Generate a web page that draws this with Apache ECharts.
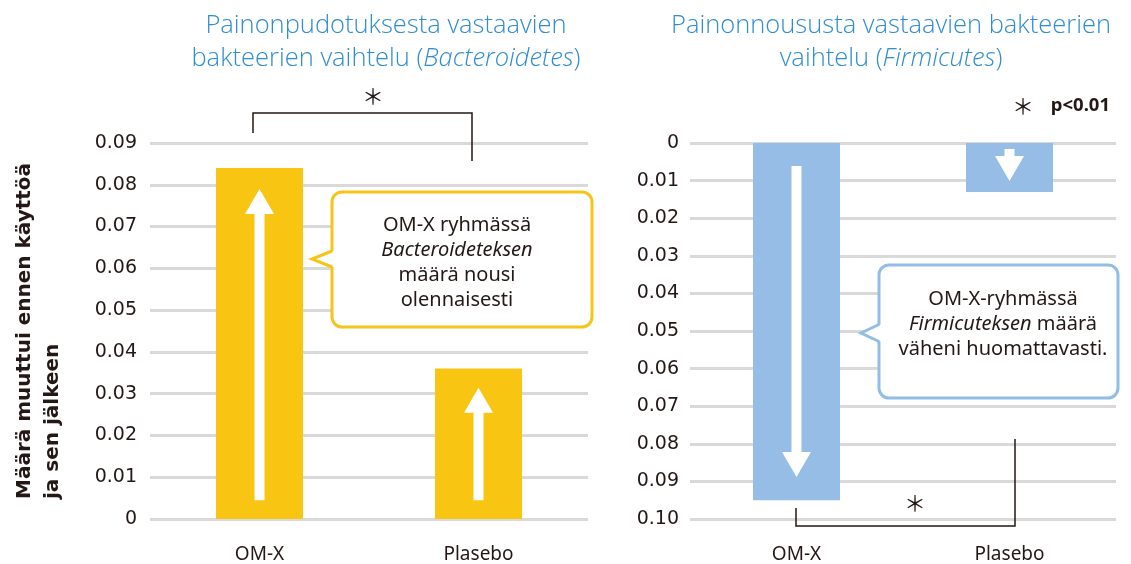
<!DOCTYPE html>
<html>
<head>
<meta charset="utf-8">
<script src="https://cdn.jsdelivr.net/npm/echarts@6/dist/echarts.min.js"></script>
<style>
  html, body { margin: 0; padding: 0; background: #fff; }
  #chart { width: 1131px; height: 564px; }
</style>
</head>
<body>
<div id="chart"></div>
<script>
const categories = ['OM-X', 'Plasebo'];
const bacteroidetes = [0.084, 0.036];
const firmicutes = [0.095, 0.013];
// arrow start / tip values drawn inside the bars
const bacteroidetesArrows = [[0.0045, 0.079], [0.0045, 0.0314]];
const firmicutesArrows = [[0.0061, 0.0888], [0.0016, 0.0101]];

const ink = '#231815';
const titleBlue = '#2f8dd3';
const yellow = '#f8c612';
const blue = '#95bde5';
const gridGray = '#d9d9d9';
const font = '"Noto Sans", sans-serif';
const axisFont = '"DejaVu Sans", sans-serif';
const titleFont = '"Open Sans", sans-serif';

const tickFormatter = v => (v === 0 ? '0' : v.toFixed(2));

function arrowRenderer(params, api) {
  const x = api.coord([api.value(0), api.value(1)])[0];
  const y0 = api.coord([api.value(0), api.value(1)])[1];
  const y1 = api.coord([api.value(0), api.value(2)])[1];
  const dir = Math.sign(y1 - y0);
  const baseY = y1 - 25 * dir;
  const sw = 5, hw = 14.5;
  return {
    type: 'polygon',
    shape: {
      points: [[x - sw, y0], [x + sw, y0], [x + sw, baseY], [x + hw, baseY], [x, y1], [x - hw, baseY], [x - sw, baseY]]
    },
    style: { fill: '#fff' }
  };
}

// speech bubble: rounded box + pointer on the left edge
function bubble(x, y, w, h, tipX, tipY, half, color) {
  return [
    { type: 'rect', z: 100, shape: { x, y, width: w, height: h, r: 10 }, style: { fill: '#fff', stroke: color, lineWidth: 3 } },
    { type: 'polygon', z: 101, shape: { points: [[x + 2, tipY - half], [tipX, tipY], [x + 2, tipY + half]] }, style: { fill: '#fff' } },
    { type: 'polyline', z: 102, shape: { points: [[x, tipY - half], [tipX, tipY], [x, tipY + half]] }, style: { stroke: color, lineWidth: 3, fill: null } }
  ];
}

const yAxisBase = {
  type: 'value',
  min: 0,
  interval: 0.01,
  axisLine: { show: false },
  axisTick: { show: false },
  axisLabel: { color: ink, fontSize: 19, fontFamily: axisFont, formatter: tickFormatter },
  splitLine: { lineStyle: { color: gridGray, width: 3 } }
};

const xAxisBase = {
  type: 'category',
  data: categories,
  axisLine: { show: false },
  axisTick: { show: false },
  axisLabel: { color: ink, fontSize: 19, fontFamily: font, margin: 26 }
};

const titleStyle = {
  align: 'center', verticalAlign: 'middle', lineHeight: 33,
  fill: titleBlue, fontSize: 25.5, fontFamily: titleFont, fontWeight: 300,
  rich: { i: { fontStyle: 'italic', fill: titleBlue, fontSize: 25.5, fontFamily: titleFont, fontWeight: 300, lineHeight: 33 } }
};

const calloutStyle = {
  align: 'center', verticalAlign: 'middle', lineHeight: 25,
  fill: ink, fontSize: 20, fontFamily: font,
  rich: { i: { fontStyle: 'italic', fill: ink, fontSize: 20, fontFamily: font, lineHeight: 25 } }
};

const star = (x, y) => ({
  type: 'text', x, y, z: 100,
  style: { text: '＊', align: 'center', verticalAlign: 'middle', fill: ink, fontSize: 22, fontFamily: '"Noto Sans CJK JP", sans-serif' }
});

const chart = echarts.init(document.getElementById('chart'), null, { renderer: 'canvas' });

chart.setOption({
  animation: false,
  backgroundColor: '#fff',
  grid: [
    { left: 150, right: 543, top: 143, bottom: 45 },
    { left: 690, right: 15, top: 143, bottom: 45 }
  ],
  xAxis: [
    Object.assign({ gridIndex: 0 }, xAxisBase),
    Object.assign({ gridIndex: 1 }, xAxisBase)
  ],
  yAxis: [
    Object.assign({}, yAxisBase, { gridIndex: 0, max: 0.09, axisLabel: Object.assign({}, yAxisBase.axisLabel, { margin: 13 }) }),
    Object.assign({}, yAxisBase, { gridIndex: 1, max: 0.1, inverse: true, axisLabel: Object.assign({}, yAxisBase.axisLabel, { margin: 11 }) })
  ],
  series: [
    {
      type: 'bar', xAxisIndex: 0, yAxisIndex: 0, barWidth: 87,
      itemStyle: { color: yellow }, data: bacteroidetes
    },
    {
      type: 'bar', xAxisIndex: 1, yAxisIndex: 1, barWidth: 87,
      itemStyle: { color: blue }, data: firmicutes
    },
    {
      type: 'custom', xAxisIndex: 0, yAxisIndex: 0, z: 5,
      renderItem: arrowRenderer, encode: { x: 0, y: [1, 2] },
      data: bacteroidetesArrows.map((a, i) => [i, a[0], a[1]])
    },
    {
      type: 'custom', xAxisIndex: 1, yAxisIndex: 1, z: 5,
      renderItem: arrowRenderer, encode: { x: 0, y: [1, 2] },
      data: firmicutesArrows.map((a, i) => [i, a[0], a[1]])
    }
  ],
  graphic: [
    // titles
    {
      type: 'text', x: 386, y: 42, z: 100,
      style: Object.assign({ text: 'Painonpudotuksesta vastaavien\nbakteerien vaihtelu ({i|Bacteroidetes})' }, titleStyle)
    },
    {
      type: 'text', x: 891, y: 42, z: 100,
      style: Object.assign({ text: 'Painonnoususta vastaavien bakteerien\nvaihtelu ({i|Firmicutes})' }, titleStyle)
    },
    // y axis name
    {
      type: 'text', x: 11, y: 499, rotation: Math.PI / 2, z: 100,
      style: {
        text: 'Määrä muuttui ennen käyttöä\nja sen jälkeen',
        align: 'left', verticalAlign: 'top', lineHeight: 28,
        fill: ink, fontSize: 20, fontFamily: axisFont, fontWeight: 'bold'
      }
    },
    // significance brackets
    {
      type: 'polyline', z: 100,
      shape: { points: [[253, 133], [253, 113], [472, 113], [472, 161]] },
      style: { stroke: ink, lineWidth: 1.5, fill: null }
    },
    star(373, 96),
    {
      type: 'polyline', z: 100,
      shape: { points: [[796, 508], [796, 526], [1015, 526], [1015, 439]] },
      style: { stroke: ink, lineWidth: 1.5, fill: null }
    },
    star(915, 503),
    star(1023, 106),
    {
      type: 'text', x: 1110, y: 106, z: 100,
      style: { text: 'p<0.01', align: 'right', verticalAlign: 'middle', fill: ink, fontSize: 18.5, fontWeight: 'bold', fontFamily: font }
    },
    // callouts
    ...bubble(332, 192, 260, 135, 312, 259, 8, '#f6c51a'),
    {
      type: 'text', x: 457, y: 263, z: 103,
      style: Object.assign({ text: 'OM-X ryhmässä\n{i|Bacteroideteksen}\nmäärä nousi\nolennaisesti' }, calloutStyle)
    },
    ...bubble(879, 265, 239, 133, 861, 333, 8.5, '#91bde6'),
    {
      type: 'text', x: 1003, y: 324, z: 103,
      style: Object.assign({ text: 'OM-X-ryhmässä\n{i|Firmicuteksen} määrä\nväheni huomattavasti.' }, calloutStyle)
    }
  ]
});
</script>
</body>
</html>
